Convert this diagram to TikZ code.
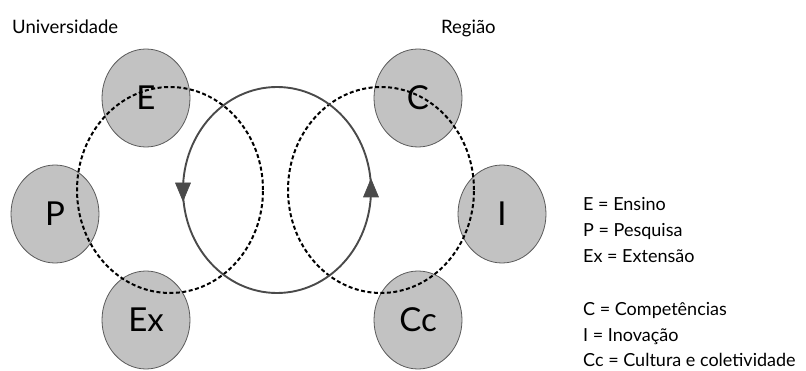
\documentclass[tikz,border=0pt]{standalone}
\usepackage{fontspec}
\setmainfont{Lato}
\usetikzlibrary{shapes.geometric}
\definecolor{bubblefill}{HTML}{C2C2C2}
\definecolor{bubbleline}{HTML}{5A5A5A}
\definecolor{loopline}{HTML}{4A4A4A}
\begin{document}
\begin{tikzpicture}[x=1pt,y=1pt,
  bubble/.style={ellipse,draw=bubbleline,line width=0.8pt,fill=bubblefill,
    minimum width=88pt,minimum height=98pt,inner sep=0pt,
    font=\fontsize{33}{33}\selectfont},
  dashloop/.style={draw=black,line width=2pt,dash pattern=on 4pt off 2.5pt},
  solidloop/.style={draw=loopline,line width=1.9pt},
  headtri/.style={fill=loopline,draw=loopline,line width=0.6pt,line join=miter},
  title/.style={font=\fontsize{18.5}{18.5}\selectfont,anchor=base west,inner sep=0pt},
  legend/.style={font=\fontsize{18}{18}\selectfont,anchor=base west,inner sep=0pt}]
\useasboundingbox (0,0) rectangle (806,370);
% gray bubbles
\node[bubble] (E) at (146,272) {E};
\node[bubble] (P) at (55,156) {P};
\node[bubble] (Ex) at (146,50) {Ex};
\node[bubble] (C) at (418,272) {C};
\node[bubble] (I) at (502,156) {I};
\node[bubble] (Cc) at (418,50) {Cc};
% dashed loops
\draw[dashloop] (170,180) ellipse [x radius=93, y radius=103];
\draw[dashloop] (381,180) ellipse [x radius=93, y radius=103];
% solid loop
\draw[solidloop] (277,180) ellipse [x radius=94, y radius=103];
% arrowheads on the solid loop
\filldraw[headtri] (183,169) -- (175.5,187) -- (190.5,187) -- cycle;
\filldraw[headtri] (371,191) -- (363.5,173) -- (378.5,173) -- cycle;
% titles
\node[title] (tu) at (12,336) {Universidade};
\node[title] (tr) at (441,336) {Região};
% legend
\node[legend] (l1) at (583,160) {E = Ensino};
\node[legend] (l2) at (583,134) {P = Pesquisa};
\node[legend] (l3) at (583,108) {Ex = Extensão};
\node[legend] (l4) at (583,55) {C = Competências};
\node[legend] (l5) at (583,29) {I = Inovação};
\node[legend] (l6) at (583,4) {Cc = Cultura e coletividade};
\end{tikzpicture}
\end{document}
